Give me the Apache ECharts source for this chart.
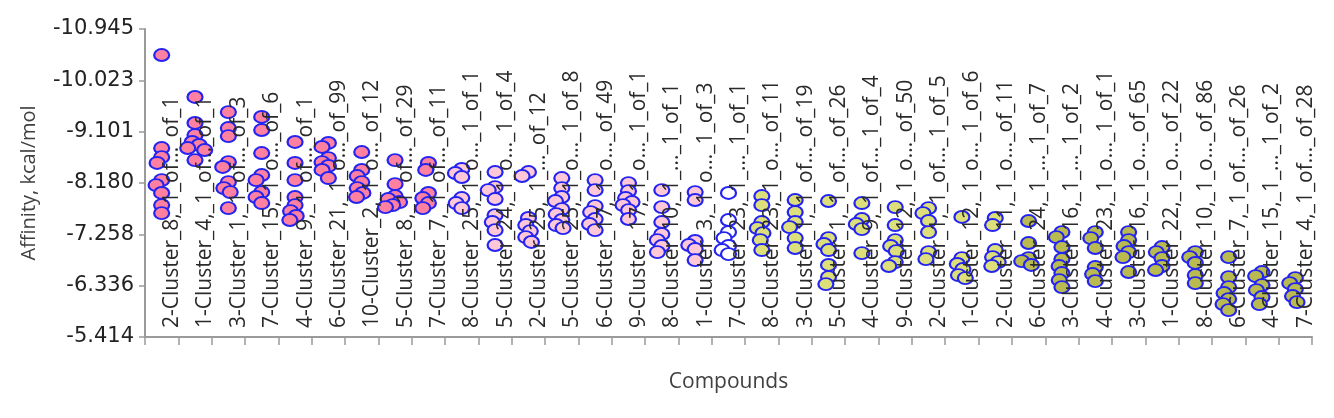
<!DOCTYPE html>
<html>
<head>
<meta charset="utf-8">
<script src="https://cdn.jsdelivr.net/npm/echarts@6/dist/echarts.min.js"></script>
<style>
html,body{margin:0;padding:0;background:#fff;}
#chart{width:1334px;height:418px;}
</style>
</head>
<body>
<div id="chart"></div>
<script>
const categories = [
  "2-Cluster_8,_1_of..._of_1",
  "1-Cluster_4,_1_of..._of_1",
  "3-Cluster_1,_1_of..._of_3",
  "7-Cluster_15,_1_o..._of_6",
  "4-Cluster_9,_1_of..._of_1",
  "6-Cluster_21,_1_o..._of_99",
  "10-Cluster_2,_1_o..._of_12",
  "5-Cluster_8,_1_of..._of_29",
  "7-Cluster_7,_1_of..._of_11",
  "8-Cluster_25,_1_o..._1_of_1",
  "5-Cluster_24,_1_o..._1_of_4",
  "2-Cluster_25,_1_..._of_12",
  "5-Cluster_25,_1_o..._1_of_8",
  "6-Cluster_17,_1_o..._of_49",
  "9-Cluster_17,_1_o..._1_of_1",
  "8-Cluster_10,_1_..._1_of_1",
  "1-Cluster_3,_1_o..._1_of_3",
  "7-Cluster_23,_1_..._1_of_1",
  "8-Cluster_23,_1_o..._of_11",
  "3-Cluster_1,_1_of..._of_19",
  "5-Cluster_1,_1_of..._of_26",
  "4-Cluster_9,_1_of..._1_of_4",
  "9-Cluster_12,_1_o..._of_50",
  "2-Cluster_1,_1_of..._1_of_5",
  "1-Cluster_12,_1_o..._1_of_6",
  "2-Cluster_11,_1_o..._of_11",
  "6-Cluster_24,_1_..._1_of_7",
  "3-Cluster_16,_1_..._1_of_2",
  "4-Cluster_23,_1_o..._1_of_1",
  "3-Cluster_16,_1_o..._of_65",
  "1-Cluster_22,_1_o..._of_22",
  "8-Cluster_10,_1_o..._of_86",
  "6-Cluster_7,_1_of..._of_26",
  "4-Cluster_15,_1_..._1_of_2",
  "7-Cluster_4,_1_of..._of_28"
];

const affinity = [
  [-10.478, -8.808, -8.646, -8.539, -8.233, -8.143, -8.000, -7.784, -7.640],
  [-9.724, -9.257, -9.041, -8.916, -8.862, -8.808, -8.772, -8.592],
  [-9.454, -9.167, -9.023, -8.556, -8.467, -8.197, -8.089, -8.017, -7.730],
  [-9.365, -9.131, -8.718, -8.323, -8.233, -8.017, -7.928, -7.820],
  [-8.916, -8.539, -8.233, -7.928, -7.784, -7.676, -7.587, -7.515],
  [-8.898, -8.826, -8.628, -8.556, -8.485, -8.413, -8.269],
  [-8.736, -8.413, -8.305, -8.197, -8.089, -8.000, -7.928],
  [-8.592, -8.161, -7.946, -7.892, -7.838, -7.784, -7.748],
  [-8.539, -8.413, -8.000, -7.910, -7.820, -7.730],
  [-8.431, -8.359, -8.287, -7.910, -7.820, -7.730],
  [-8.377, -8.107, -8.053, -7.892, -7.604, -7.479, -7.335, -7.066],
  [-8.377, -8.305, -7.551, -7.425, -7.317, -7.209, -7.120],
  [-8.269, -8.089, -7.928, -7.856, -7.712, -7.622, -7.515, -7.425, -7.371],
  [-8.233, -8.053, -7.766, -7.658, -7.533, -7.443, -7.335],
  [-8.179, -8.035, -7.910, -7.838, -7.784, -7.694, -7.533],
  [-8.053, -7.748, -7.479, -7.263, -7.155, -7.048, -6.940],
  [-8.017, -7.874, -7.138, -7.066, -6.994, -6.796],
  [-8.000, -7.515, -7.299, -7.191, -7.048, -6.976, -6.904],
  [-7.946, -7.784, -7.479, -7.371, -7.281, -7.155, -6.976],
  [-7.874, -7.658, -7.479, -7.389, -7.191, -7.012],
  [-7.856, -7.191, -7.084, -6.976, -6.707, -6.491, -6.365],
  [-7.820, -7.533, -7.443, -7.353, -6.922],
  [-7.748, -7.425, -7.155, -7.048, -6.958, -6.760, -6.689],
  [-7.730, -7.640, -7.497, -7.299, -6.940, -6.814],
  [-7.569, -6.832, -6.725, -6.635, -6.527, -6.473],
  [-7.551, -7.425, -6.976, -6.850, -6.760, -6.689],
  [-7.497, -7.102, -6.832, -6.778, -6.707],
  [-7.299, -7.209, -7.030, -6.814, -6.689, -6.563, -6.437, -6.311],
  [-7.299, -7.191, -7.012, -6.671, -6.545, -6.419],
  [-7.299, -7.155, -7.048, -6.940, -6.850, -6.581],
  [-7.030, -6.940, -6.832, -6.689, -6.617],
  [-6.940, -6.850, -6.743, -6.527, -6.383],
  [-6.850, -6.491, -6.311, -6.204, -6.096, -6.006, -5.898],
  [-6.581, -6.509, -6.347, -6.257, -6.132, -6.006],
  [-6.473, -6.383, -6.275, -6.150, -6.042]
];

const yTickLabels = ["-10.945", "-10.023", "-9.101", "-8.180", "-7.258", "-6.336", "-5.414"];
const yMin = -10.945;
const yMax = -5.414;

const yStep = (yMax - yMin) / (yTickLabels.length - 1);

const points = [];
affinity.forEach(function (vals, ci) {
  vals.forEach(function (v) { points.push([ci, v]); });
});

function fillFor(ci) {
  if (ci <= 8) return '#ff80a0';
  if (ci <= 16) return '#ffc8d8';
  if (ci === 17) return '#ffffff';
  if (ci <= 25) return '#dde07a';
  return '#b9ba50';
}

const chart = echarts.init(document.getElementById('chart'), null, { renderer: 'canvas' });
chart.setOption({
  animation: false,
  backgroundColor: '#ffffff',
  grid: { left: 145, right: 22, top: 29, bottom: 81, containLabel: false },
  xAxis: {
    type: 'category',
    data: categories,
    boundaryGap: true,
    z: 10,
    jitter: 22,
    jitterOverlap: false,
    jitterMargin: -6,
    name: 'Compounds',
    nameLocation: 'middle',
    nameGap: 35,
    nameTextStyle: { fontFamily: 'Open Sans', fontSize: 21, color: '#404040' },
    axisLine: { show: true, lineStyle: { color: '#9a9a9a', width: 2 } },
    axisTick: { show: true, length: 8, lineStyle: { color: '#9a9a9a', width: 1.5 } },
    axisLabel: {
      inside: true,
      rotate: 90,
      interval: 0,
      margin: 9,
      verticalAlign: 'top',
      fontFamily: 'Open Sans',
      fontSize: 21,
      color: '#2a2a2a'
    },
    splitLine: { show: false }
  },
  yAxis: {
    type: 'value',
    inverse: true,
    min: yMin,
    max: yMax,
    interval: yStep,
    name: 'Affinity, kcal/mol',
    nameLocation: 'middle',
    nameGap: 106,
    nameRotate: 90,
    nameTextStyle: { fontFamily: 'Open Sans', fontSize: 20, color: '#404040' },
    axisLine: { show: true, lineStyle: { color: '#9a9a9a', width: 2 } },
    axisTick: { show: true, length: 6, lineStyle: { color: '#9a9a9a', width: 1.5 } },
    axisLabel: {
      margin: 11,
      fontFamily: 'DejaVu Sans',
      fontSize: 21,
      color: '#222222',
      formatter: function (v) {
        const i = Math.round((v - yMin) / yStep);
        return yTickLabels[i] !== undefined ? yTickLabels[i] : '';
      }
    },
    splitLine: { show: false }
  },
  series: [{
    type: 'scatter',
    data: points,
    symbol: 'path://M1,0A1,1,0,1,1,-1,0A1,1,0,1,1,1,0Z',
    symbolSize: [15, 12],
    z: 2,
    itemStyle: {
      color: function (p) { return fillFor(p.value[0]); },
      borderColor: '#2424f0',
      borderWidth: 2,
      opacity: 1
    }
  }]
});
</script>
</body>
</html>
